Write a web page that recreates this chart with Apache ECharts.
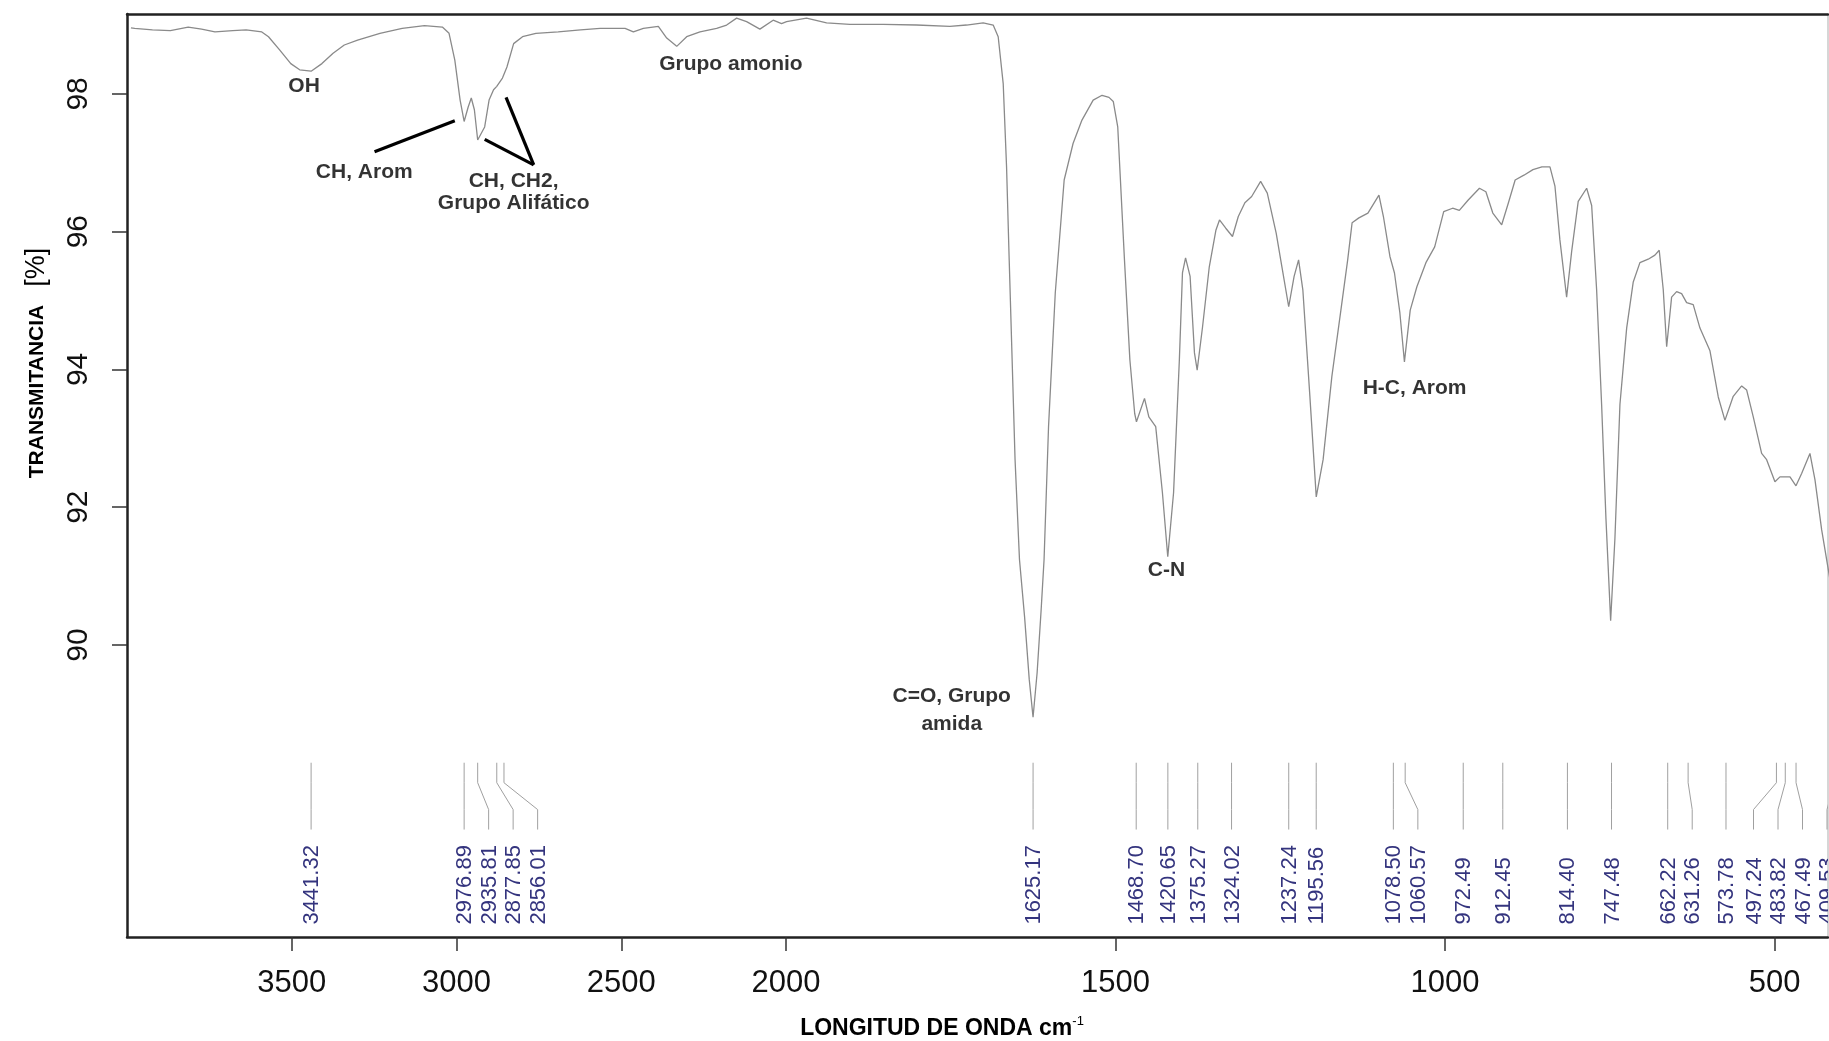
<!DOCTYPE html>
<html>
<head>
<meta charset="utf-8">
<title>Espectro FTIR</title>
<script src="https://cdn.jsdelivr.net/npm/echarts@6/dist/echarts.min.js"></script>
<style>
  html, body { margin: 0; padding: 0; background: #ffffff; }
  #chart { width: 1829px; height: 1041px; }
</style>
</head>
<body>
<div id="chart"></div>
<script>
// ---- spectrum: wavenumber (cm-1) and transmittance (%) ----
const waveNumbers = [
  3988, 3976.7, 3922.7, 3868.5, 3814.3, 3773.6, 3733.1, 3679.0, 3638.5, 3590.9,
  3570.6, 3536.9, 3503.0, 3476.0, 3441.3, 3408.5, 3374.6, 3340.6, 3300.3, 3232.4,
  3164.9, 3097.3, 3043.0, 3022.7, 3005.2, 2989.1, 2976.9, 2964.6, 2955.2, 2945.8,
  2935.8, 2914.6, 2901.2, 2887.6, 2877.9, 2860.6, 2847.0, 2826.7, 2799.7, 2759.1,
  2691.5, 2623.6, 2564.2, 2488.5, 2463.3, 2433.0, 2387.6, 2362.1, 2331.8, 2301.5,
  2261.2, 2210.6, 2180.3, 2150.0, 2119.7, 2079.4, 2039.1, 2013.6, 1999.2, 1968.9,
  1938.5, 1903.2, 1852.6, 1802.0, 1751.4, 1726.1, 1700.9, 1685.7, 1678.1, 1670.5,
  1665.4, 1661.4, 1652.5, 1645.8, 1638.0, 1631.0, 1625.2, 1619.0, 1613.0, 1608.5,
  1601.7, 1591.5, 1578.0, 1564.5, 1551.0, 1534.0, 1520.5, 1510.0, 1503.5, 1496.7,
  1486.5, 1478.3, 1471.0, 1468.3, 1456.1, 1449.5, 1439.1, 1428.9, 1420.8, 1412.0,
  1403.2, 1398.5, 1393.8, 1386.9, 1380.3, 1376.2, 1368.0, 1357.8, 1347.8, 1342.3,
  1332.8, 1322.6, 1313.8, 1303.8, 1293.5, 1279.9, 1269.8, 1256.3, 1247.6, 1237.3,
  1229.1, 1222.3, 1215.8, 1205.5, 1195.5, 1185.1, 1171.8, 1158.1, 1147.8, 1141.1,
  1130.8, 1117.1, 1100.4, 1093.6, 1083.7, 1076.8, 1068.6, 1061.7, 1052.9, 1042.8,
  1029.1, 1015.8, 1002.1, 988.6, 978.4, 964.9, 947.9, 938.1, 927.6, 914.1,
  903.9, 893.7, 880.4, 866.7, 853.1, 840.9, 833.3, 825.8, 815.6, 808.0,
  798.0, 785.2, 777.6, 770.1, 762.5, 755.9, 748.8, 742.3, 734.7, 724.5,
  714.5, 704.4, 691.8, 681.6, 675.1, 669.0, 663.8, 656.3, 648.7, 641.1,
  633.5, 623.5, 613.3, 598.1, 585.5, 575.4, 562.8, 550.0, 542.4, 532.4,
  519.7, 512.1, 499.5, 491.9, 484.3, 476.7, 467.6, 459.0, 446.4, 438.8,
  428.6, 417.6, 410.0
];
const transmittance = [
  98.96, 98.95, 98.93, 98.92, 98.97, 98.94, 98.90, 98.92, 98.93, 98.90,
  98.83, 98.64, 98.44, 98.35, 98.33, 98.44, 98.59, 98.71, 98.78, 98.88,
  98.95, 98.99, 98.97, 98.88, 98.49, 97.91, 97.60, 97.81, 97.94, 97.77,
  97.33, 97.52, 97.91, 98.06, 98.11, 98.23, 98.39, 98.73, 98.83, 98.88,
  98.90, 98.93, 98.95, 98.95, 98.90, 98.95, 98.98, 98.81, 98.69, 98.83,
  98.90, 98.95, 99.00, 99.10, 99.05, 98.94, 99.07, 99.02, 99.05, 99.10,
  99.03, 99.01, 99.01, 99.00, 98.98, 99.00, 99.03, 99.00, 98.83, 98.15,
  96.94, 95.59, 92.69, 91.24, 90.40, 89.50, 88.95, 89.60, 90.50, 91.24,
  93.17, 95.11, 96.75, 97.28, 97.62, 97.91, 97.98, 97.95, 97.89, 97.52,
  95.59, 94.14, 93.36, 93.24, 93.58, 93.31, 93.17, 92.21, 91.28, 92.21,
  94.14, 95.40, 95.62, 95.35, 94.24, 93.99, 94.62, 95.49, 96.02, 96.17,
  96.05, 95.93, 96.22, 96.42, 96.51, 96.73, 96.56, 95.98, 95.49, 94.91,
  95.35, 95.59, 95.15, 93.66, 92.15, 92.69, 93.90, 94.86, 95.59, 96.13,
  96.20, 96.27, 96.53, 96.22, 95.64, 95.40, 94.82, 94.11, 94.86, 95.20,
  95.55, 95.78, 96.29, 96.34, 96.31, 96.46, 96.63, 96.58, 96.27, 96.10,
  96.42, 96.75, 96.82, 96.90, 96.94, 96.94, 96.66, 95.88, 95.05, 95.71,
  96.44, 96.63, 96.38, 95.16, 93.49, 91.83, 90.35, 91.55, 93.49, 94.60,
  95.27, 95.55, 95.60, 95.66, 95.73, 95.16, 94.33, 95.05, 95.13, 95.10,
  94.97, 94.94, 94.60, 94.27, 93.60, 93.26, 93.61, 93.76, 93.70, 93.31,
  92.78, 92.69, 92.37, 92.44, 92.44, 92.44, 92.31, 92.49, 92.78, 92.40,
  91.67, 91.04, 90.60
];

// ---- picked peaks (cm-1) ----
const peakWaves = [
  3441.32, 2976.89, 2935.81, 2877.85, 2856.01, 1625.17, 1468.70, 1420.65, 1375.27,
  1324.02, 1237.24, 1195.56, 1078.50, 1060.57, 972.49, 912.45, 814.40, 747.48,
  662.22, 631.26, 573.78, 497.24, 483.82, 467.49, 409.53
];

// ---- axis ticks ----
const xTickValues = [3500, 3000, 2500, 2000, 1500, 1000, 500];
const yTickValues = [90, 92, 94, 96, 98];

// ---- band assignments (text, wavenumber, transmittance of the text centre) ----
const bandTexts = ['OH', 'CH, Arom', 'CH, CH2,', 'Grupo Alifático', 'Grupo amonio',
                   'C=O, Grupo', 'amida', 'C-N', 'H-C, Arom'];
const bandTextWaves = [3462.7, 3280.0, 2826.7, 2826.7, 2167.3, 1748.6, 1748.6, 1422.9, 1046.3];
const bandTextT = [98.11, 96.86, 96.73, 96.41, 98.43, 89.26, 88.85, 91.08, 93.73];

// ---- leader lines from the band texts to the bands [w1, T1, w2, T2] ----
const leaderLines = [
  [3248.8, 97.16, 3005.2, 97.61],
  [2765.8, 96.97, 2914.5, 97.34],
  [2765.8, 96.97, 2849.7, 97.95]
];

// The abscissa is compressed by 2 above 2000 cm-1 (usual FTIR presentation).
const BREAK = 2000;
const toAxis = w => (w > BREAK ? BREAK + (w - BREAK) / 2 : w);
const fromAxis = u => (u > BREAK ? BREAK + (u - BREAK) * 2 : u);

const X_LOW = 419;          // cm-1 at the right border
const X_HIGH = 4000;        // cm-1 at the left border
const Y_MIN = 85.76;
const Y_MAX = 99.16;

// peak marker geometry, in transmittance units
const MARK_TOP = 88.29;
const MARK_BEND_A = 88.0;
const MARK_BEND_B = 87.61;
const MARK_END = 87.32;
const MARK_TEXT = 85.94;
const LABEL_GAP = 24.5;     // px between neighbouring peak labels

const FONT = '"Liberation Sans", Arial, Helvetica, sans-serif';

// spread crowded peak labels: left-to-right, then back from the right border
function layoutPeakLabels(api) {
  const px = peakWaves.map(w => api.coord([toAxis(w), MARK_TOP])[0]);
  const right = api.coord([X_LOW, MARK_TOP])[0] - 1;
  const pos = px.slice();
  for (let i = 1; i < pos.length; i++) pos[i] = Math.max(pos[i], pos[i - 1] + LABEL_GAP);
  const n = pos.length - 1;
  pos[n] = Math.min(pos[n], right);
  for (let i = n - 1; i >= 0; i--) pos[i] = Math.min(pos[i], pos[i + 1] - LABEL_GAP);
  return { px, pos };
}

function renderPeak(params, api) {
  const ctx = params.context;
  if (!ctx.layout) ctx.layout = layoutPeakLabels(api);
  const i = params.dataIndex;
  const x0 = ctx.layout.px[i];
  const x1 = ctx.layout.pos[i];
  const u = toAxis(peakWaves[i]);
  const yTop = api.coord([u, MARK_TOP])[1];
  const yA = api.coord([u, MARK_BEND_A])[1];
  const yB = api.coord([u, MARK_BEND_B])[1];
  const yEnd = api.coord([u, MARK_END])[1];
  const yText = api.coord([u, MARK_TEXT])[1];
  return {
    type: 'group',
    children: [
      {
        type: 'polyline',
        shape: { points: [[x0, yTop], [x0, yA], [x1, yB], [x1, yEnd]] },
        style: { stroke: '#a0a0a0', lineWidth: 1, fill: null }
      },
      {
        type: 'text',
        x: x1 + 1,
        y: yText,
        rotation: Math.PI / 2,
        style: {
          text: peakWaves[i].toFixed(2),
          fill: '#34347e',
          font: '22px ' + FONT,
          align: 'left',
          verticalAlign: 'middle'
        }
      }
    ]
  };
}

const chart = echarts.init(document.getElementById('chart'), null, { renderer: 'canvas' });

const option = {
  backgroundColor: '#ffffff',
  animation: false,
  grid: { left: 127, top: 14, right: 1, bottom: 104, outerBoundsMode: 'none', containLabel: false },
  xAxis: [
    {
      type: 'value',
      min: X_LOW,
      max: toAxis(X_HIGH),
      inverse: true,
      position: 'bottom',
      axisLine: { show: true, onZero: false, lineStyle: { color: '#222', width: 2.5 } },
      axisTick: {
        show: true, customValues: xTickValues.map(toAxis), length: 14, inside: false,
        lineStyle: { color: '#333', width: 1.5 }
      },
      axisLabel: {
        show: true, customValues: xTickValues.map(toAxis),
        formatter: v => String(Math.round(fromAxis(v))),
        fontSize: 31, lineHeight: 30, margin: 31, color: '#111', fontFamily: FONT
      },
      splitLine: { show: false }
    },
    {
      type: 'value',
      min: X_LOW,
      max: toAxis(X_HIGH),
      inverse: true,
      position: 'top',
      axisLine: { show: true, onZero: false, lineStyle: { color: '#222', width: 2.5 } },
      axisTick: { show: false },
      axisLabel: { show: false },
      splitLine: { show: false }
    }
  ],
  yAxis: [
    {
      type: 'value',
      min: Y_MIN,
      max: Y_MAX,
      position: 'left',
      axisLine: { show: true, onZero: false, lineStyle: { color: '#222', width: 2.5 } },
      axisTick: {
        show: true, customValues: yTickValues, length: 15,
        lineStyle: { color: '#333', width: 1.5 }
      },
      axisLabel: {
        show: true, customValues: yTickValues, rotate: 90,
        fontSize: 30, lineHeight: 30, margin: 33, color: '#111', fontFamily: FONT
      },
      splitLine: { show: false }
    },
    {
      type: 'value',
      min: Y_MIN,
      max: Y_MAX,
      position: 'right',
      axisLine: { show: true, onZero: false, lineStyle: { color: '#c8c8c8', width: 1.5 } },
      axisTick: { show: false },
      axisLabel: { show: false },
      splitLine: { show: false }
    }
  ],
  series: [
    {
      name: 'Transmitancia',
      type: 'line',
      xAxisIndex: 0,
      yAxisIndex: 0,
      data: waveNumbers.map((w, i) => [toAxis(w), transmittance[i]]),
      showSymbol: false,
      symbol: 'none',
      smooth: false,
      clip: true,
      silent: true,
      lineStyle: { color: '#8a8a8a', width: 1.3 },
      markLine: {
        silent: true,
        symbol: ['none', 'none'],
        label: { show: false },
        lineStyle: { color: '#000', width: 3.2, type: 'solid' },
        data: leaderLines.map(([w1, t1, w2, t2]) => [
          { coord: [toAxis(w1), t1] },
          { coord: [toAxis(w2), t2] }
        ])
      }
    },
    {
      name: 'Picos',
      type: 'custom',
      xAxisIndex: 0,
      yAxisIndex: 0,
      clip: true,
      silent: true,
      data: peakWaves.map(w => [toAxis(w), MARK_TOP]),
      renderItem: renderPeak
    },
    {
      name: 'Asignaciones',
      type: 'scatter',
      xAxisIndex: 0,
      yAxisIndex: 0,
      silent: true,
      symbolSize: 1,
      itemStyle: { color: 'rgba(255,255,255,0)' },
      data: bandTexts.map((s, i) => ({ name: s, value: [toAxis(bandTextWaves[i]), bandTextT[i]] })),
      label: {
        show: true,
        position: 'inside',
        formatter: '{b}',
        color: '#000',
        textBorderWidth: 0,
        fontSize: 21,
        fontWeight: 'bold',
        fontFamily: FONT
      }
    }
  ],
  graphic: [
    {
      type: 'text',
      x: 942,
      y: 1029,
      style: {
        text: '{b|LONGITUD DE ONDA cm}{s|-1}',
        align: 'center',
        verticalAlign: 'middle',
        rich: {
          b: { fontSize: 23, fontWeight: 'bold', fontFamily: FONT, fill: '#000', lineHeight: 28 },
          s: { fontSize: 13, fontFamily: FONT, fill: '#000', verticalAlign: 'top', lineHeight: 28 }
        }
      }
    },
    {
      type: 'text',
      x: 37,
      y: 363,
      rotation: Math.PI / 2,
      style: {
        text: '{b|TRANSMITANCIA}{r|[%]}',
        align: 'center',
        verticalAlign: 'middle',
        rich: {
          b: { fontSize: 21, fontWeight: 'bold', fontFamily: FONT, fill: '#000' },
          r: { fontSize: 27, fontFamily: FONT, fill: '#000', padding: [0, 0, 0, 18] }
        }
      }
    }
  ]
};

chart.setOption(option);
</script>
</body>
</html>
